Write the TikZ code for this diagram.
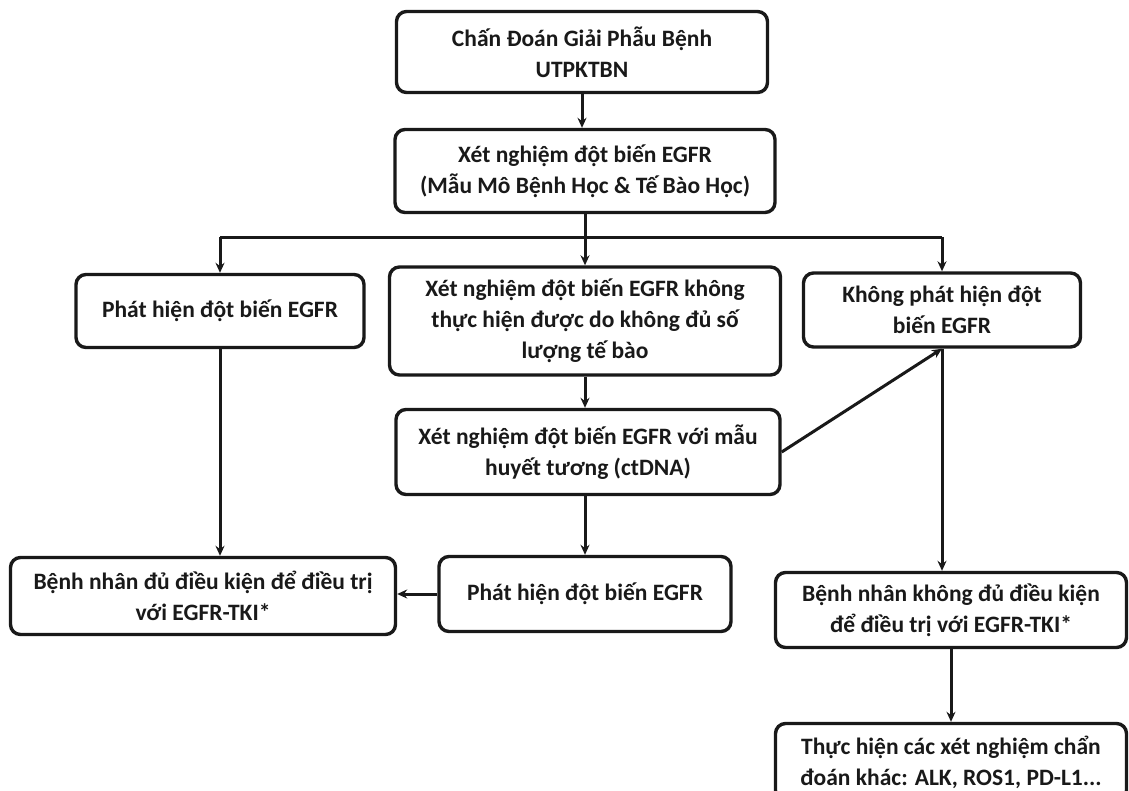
\documentclass[tikz,border=0pt]{standalone}
\usepackage{fontspec}
\setmainfont{Carlito}
\usetikzlibrary{arrows.meta}
\begin{document}
\begin{tikzpicture}[x=1pt,y=-1pt,
  box/.style={draw=black!90, line width=3.4pt, rounded corners=10pt, fill=white,
    align=center, inner sep=0pt, font=\fontsize{23.5}{31}\selectfont\bfseries, text=black!90},
  conn/.style={line width=3pt, draw=black!90},
  arr/.style={conn, -{Stealth[length=10pt,width=9pt]}}]
\useasboundingbox (0,0) rectangle (1129,790);
\clip (0,0) rectangle (1129,790);
\node[box, minimum width=371pt, minimum height=81pt] (A) at (582,52) {Chấn Đoán Giải Phẫu Bệnh\\UTPKTBN};
\node[box, minimum width=380pt, minimum height=83pt] (B) at (585,171) {Xét nghiệm đột biến EGFR\\(Mẫu Mô Bệnh Học \& Tế Bào Học)};
\node[box, minimum width=288pt, minimum height=73pt] (C) at (220,311) {Phát hiện đột biến EGFR};
\node[box, minimum width=391pt, minimum height=108pt] (D) at (585,321) {Xét nghiệm đột biến EGFR không\\thực hiện được do không đủ số\\lượng tế bào};
\node[box, minimum width=277pt, minimum height=74pt] (E) at (942,310) {Không phát hiện đột\\biến EGFR};
\node[box, minimum width=384pt, minimum height=85pt] (F) at (588,452) {Xét nghiệm đột biến EGFR với mẫu\\huyết tương (ctDNA)};
\node[box, minimum width=292pt, minimum height=75pt] (G) at (585,594) {Phát hiện đột biến EGFR};
\node[box, minimum width=385pt, minimum height=77pt] (H) at (203,596) {Bệnh nhân đủ điều kiện để điều trị\\với EGFR-TKI*};
\node[box, minimum width=351pt, minimum height=75pt] (I) at (951,610) {Bệnh nhân không đủ điều kiện\\để điều trị với EGFR-TKI*};
\node[box, minimum width=351pt, minimum height=77pt] (J) at (951,762) {Thực hiện các xét nghiệm chẩn\\đoán khác: ALK, ROS1, PD-L1...};
\coordinate (bus) at (585,237);
\draw[arr] (A.south) -- (A.south |- B.north);
\draw[conn] (B.south) -- (bus);
\draw[conn] (bus -| C.north) -- (bus -| E.north);
\draw[arr] (bus) -- (D.north);
\draw[arr] (bus -| C.north) -- (C.north);
\draw[arr] (bus -| E.north) -- (E.north);
\draw[arr] (C.south) -- (C.south |- H.north);
\draw[arr] (D.south) -- (D.south |- F.north);
\draw[arr] (F.south -| G.north) -- (G.north);
\draw[arr] (G.west) -- (G.west -| H.east);
\draw[arr] (F.east) -- (E.south);
\draw[arr] (E.south) -- (E.south |- I.north);
\draw[arr] (I.south) -- (J.north);
\end{tikzpicture}
\end{document}
